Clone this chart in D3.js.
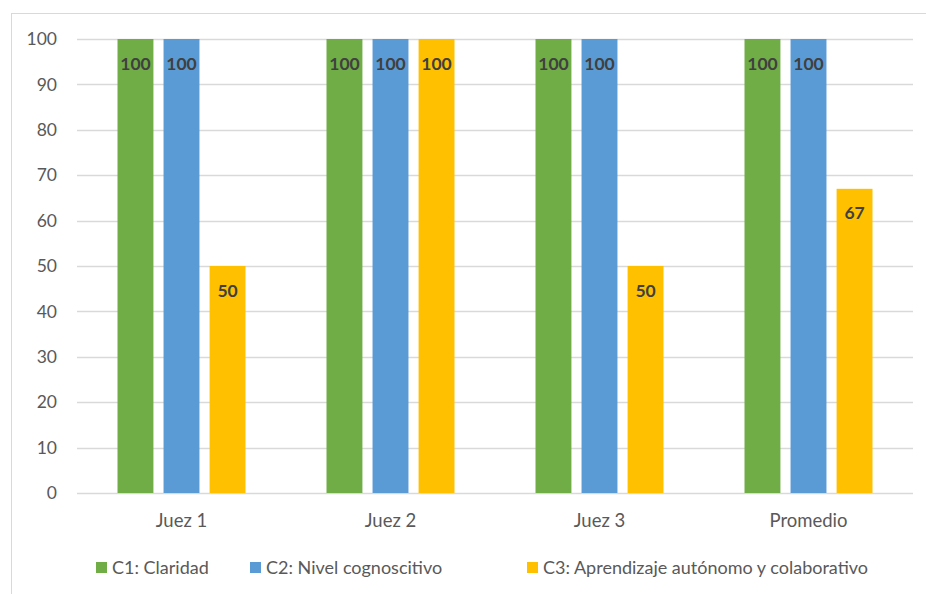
<!DOCTYPE html>
<html>
<head>
<meta charset="utf-8">
<script src="https://cdn.jsdelivr.net/npm/d3@7"></script>
<style>
  html, body { margin: 0; padding: 0; background: #fff; }
  svg { display: block; font-family: Lato, "Open Sans", sans-serif; }
</style>
</head>
<body>
<svg id="chart" width="926" height="594"></svg>
<script>
// Evaluation scores per judge and criterion
const groups = ["Juez 1", "Juez 2", "Juez 3", "Promedio"];
const seriesNames = ["C1: Claridad", "C2: Nivel cognoscitivo", "C3: Aprendizaje autónomo y colaborativo"];
const c1Values = [100, 100, 100, 100];
const c2Values = [100, 100, 100, 100];
const c3Values = [50, 100, 50, 67];
const yTicks = [0, 10, 20, 30, 40, 50, 60, 70, 80, 90, 100];
const colors = ["#70AD47", "#5B9BD5", "#FFC000"];

const seriesValues = [c1Values, c2Values, c3Values];
const svg = d3.select("#chart");

// outer chart frame
svg.append("rect")
  .attr("x", 11.5).attr("y", 13.5)
  .attr("width", 930).attr("height", 600)
  .attr("fill", "#fff").attr("stroke", "#d9d9d9").attr("stroke-width", 1);

const plotLeft = 77, plotRight = 913, plotTop = 39, plotBottom = 493;

const x0 = d3.scaleBand().domain(groups).range([plotLeft, plotRight]).paddingInner(0).paddingOuter(0);
const x1 = d3.scaleBand().domain(d3.range(seriesNames.length))
  .range([-64, 64]).paddingInner(0.22);
const y = d3.scaleLinear().domain([0, 100]).range([plotBottom, plotTop]);

// horizontal gridlines
svg.append("g")
  .selectAll("line")
  .data(yTicks)
  .join("line")
  .attr("x1", plotLeft).attr("x2", plotRight)
  .attr("y1", d => Math.round(y(d)) + 0.5)
  .attr("y2", d => Math.round(y(d)) + 0.5)
  .attr("stroke", "#d9d9d9").attr("stroke-width", 1.3);

// y axis labels
const yAxis = d3.axisLeft(y).tickValues(yTicks).tickSize(0).tickPadding(0);
const yg = svg.append("g").attr("transform", "translate(57,0)").call(yAxis);
yg.select(".domain").remove();
yg.selectAll("text")
  .attr("fill", "#595959").attr("font-size", 17.5)
  .attr("font-family", "Lato, 'Open Sans', sans-serif");

// bars
const rows = groups.map((g, i) => ({ g, vals: seriesValues.map(s => s[i]) }));
const gsel = svg.append("g").selectAll("g")
  .data(rows).join("g")
  .attr("transform", d => `translate(${x0(d.g) + x0.bandwidth() / 2},0)`);

gsel.selectAll("rect")
  .data(d => d.vals.map((v, k) => ({ v, k })))
  .join("rect")
  .attr("x", d => x1(d.k))
  .attr("width", x1.bandwidth())
  .attr("y", d => y(d.v))
  .attr("height", d => y(0) - y(d.v))
  .attr("fill", d => colors[d.k]);

// value labels inside bar tops
gsel.selectAll("text")
  .data(d => d.vals.map((v, k) => ({ v, k })))
  .join("text")
  .attr("x", d => x1(d.k) + x1.bandwidth() / 2)
  .attr("y", d => y(d.v) + 30.5)
  .attr("text-anchor", "middle")
  .attr("font-size", 17.5).attr("font-weight", "bold")
  .attr("fill", "#404040")
  .text(d => d.v);

// x axis category labels
const xAxis = d3.axisBottom(x0).tickSize(0).tickPadding(0);
const xg = svg.append("g").attr("transform", "translate(0,527)").call(xAxis);
xg.select(".domain").remove();
xg.selectAll("text")
  .attr("fill", "#595959").attr("font-size", 18.5)
  .attr("dy", 0)
  .attr("font-family", "Lato, 'Open Sans', sans-serif");

// legend
const legendX = [96, 250, 527];
const lg = svg.append("g").selectAll("g")
  .data(seriesNames).join("g")
  .attr("transform", (d, i) => `translate(${legendX[i]},562)`);
lg.append("rect").attr("width", 11).attr("height", 11).attr("fill", (d, i) => colors[i]);
lg.append("text").attr("x", 16).attr("y", 11.5)
  .attr("font-size", 18).attr("fill", "#595959")
  .text(d => d);
</script>
</body>
</html>
